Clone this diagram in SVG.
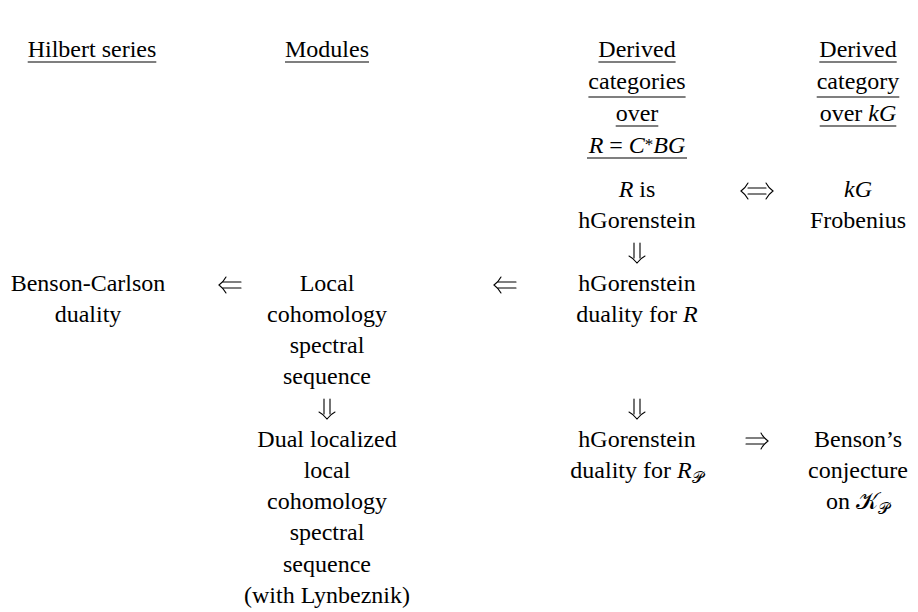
<svg xmlns="http://www.w3.org/2000/svg" xmlns:xlink="http://www.w3.org/1999/xlink" width="918" height="612" viewBox="0 0 918 612">
<style>
text{font-family:"Liberation Serif","DejaVu Serif","DejaVu Sans","Noto Sans",serif;font-size:24px;fill:#000;text-anchor:middle}
.i{font-style:italic}
.ul{stroke:#000;stroke-width:1.2}
.arr{fill:none;stroke:#000;stroke-width:1.1;stroke-linecap:round}
</style>
<defs>
<g id="aL" class="arr"><path d="M-7,-3H11M-7,3H11"/><path d="M-4,-8C-6,-4 -9,-1.5 -11,0C-9,1.5 -6,4 -4,8"/></g>
<g id="aR" class="arr"><path d="M7,-3H-11M7,3H-11"/><path d="M4,-8C6,-4 9,-1.5 11,0C9,1.5 6,4 4,8"/></g>
<g id="aLR" class="arr"><path d="M-9,-3H9M-9,3H9"/><path d="M-9,-8C-11,-4 -14,-1.5 -16,0C-14,1.5 -11,4 -9,8"/><path d="M9,-8C11,-4 14,-1.5 16,0C14,1.5 11,4 9,8"/></g>
<g id="aD" class="arr"><path d="M-3,-20V-5M3,-20V-5"/><path d="M-8,-7C-4,-5 -1.5,-2 0,0C1.5,-2 4,-5 8,-7"/></g>
</defs>
<rect width="918" height="612" fill="#fff"/>

<g id="head-hilbert">
<text x="92" y="57">Hilbert series</text>
<line class="ul" x1="27.7" y1="62" x2="156.3" y2="62"/>
</g>
<g id="head-modules">
<text x="327" y="57">Modules</text>
<line class="ul" x1="285" y1="62" x2="369" y2="62"/>
</g>
<g id="head-derived-R">
<text x="637" y="57">Derived</text>
<line class="ul" x1="598.4" y1="62" x2="675.6" y2="62"/>
<text x="637" y="89">categories</text>
<line class="ul" x1="588.4" y1="97" x2="685.6" y2="97"/>
<text x="637" y="121">over</text>
<line class="ul" x1="615.7" y1="126" x2="658.3" y2="126"/>
<text x="637" y="153"><tspan class="i">R</tspan> = <tspan class="i">C</tspan><tspan font-size="17" dy="-3">*</tspan><tspan class="i" dy="3">BG</tspan></text>
<line class="ul" x1="587" y1="158" x2="687" y2="158"/>
</g>
<g id="head-derived-kG">
<text x="858" y="57">Derived</text>
<line class="ul" x1="819.3" y1="62" x2="896.7" y2="62"/>
<text x="858" y="89">category</text>
<line class="ul" x1="816.7" y1="97" x2="899.3" y2="97"/>
<text x="858" y="121">over <tspan class="i">kG</tspan></text>
<line class="ul" x1="819.7" y1="126" x2="896.3" y2="126"/>
</g>

<g id="node-R-hGorenstein">
<text x="637" y="197"><tspan class="i">R</tspan> is</text>
<text x="637" y="228">hGorenstein</text>
</g>
<g id="node-kG-frobenius">
<text x="858" y="197" class="i">kG</text>
<text x="858" y="228">Frobenius</text>
</g>
<g id="node-benson-carlson">
<text x="88" y="291">Benson-Carlson</text>
<text x="88" y="322">duality</text>
</g>
<g id="node-local-cohomology">
<text x="327" y="291">Local</text>
<text x="327" y="322">cohomology</text>
<text x="327" y="353">spectral</text>
<text x="327" y="384">sequence</text>
</g>
<g id="node-duality-R">
<text x="637" y="291">hGorenstein</text>
<text x="637" y="322">duality for <tspan class="i">R</tspan></text>
</g>
<g id="node-dual-localized">
<text x="327" y="447">Dual localized</text>
<text x="327" y="478">local</text>
<text x="327" y="509">cohomology</text>
<text x="327" y="540">spectral</text>
<text x="327" y="572">sequence</text>
<text x="327" y="603">(with Lynbeznik)</text>
</g>
<g id="node-duality-RP">
<text x="637" y="447">hGorenstein</text>
<text x="637" y="478">duality for <tspan class="i">R</tspan><tspan font-size="16" dy="5">𝒫</tspan></text>
</g>
<g id="node-benson-conjecture">
<text x="858" y="447">Benson’s</text>
<text x="858" y="478">conjecture</text>
<text x="858" y="509">on 𝒦<tspan font-size="16" dy="5">𝒫</tspan></text>
</g>

<g id="connectors">
<use xlink:href="#aLR" x="757" y="191"/>
<use xlink:href="#aD" x="637" y="263"/>
<use xlink:href="#aL" x="230" y="285"/>
<use xlink:href="#aL" x="505" y="285"/>
<use xlink:href="#aD" x="327" y="419"/>
<use xlink:href="#aD" x="637" y="419"/>
<use xlink:href="#aR" x="757" y="441"/>
</g>
</svg>
